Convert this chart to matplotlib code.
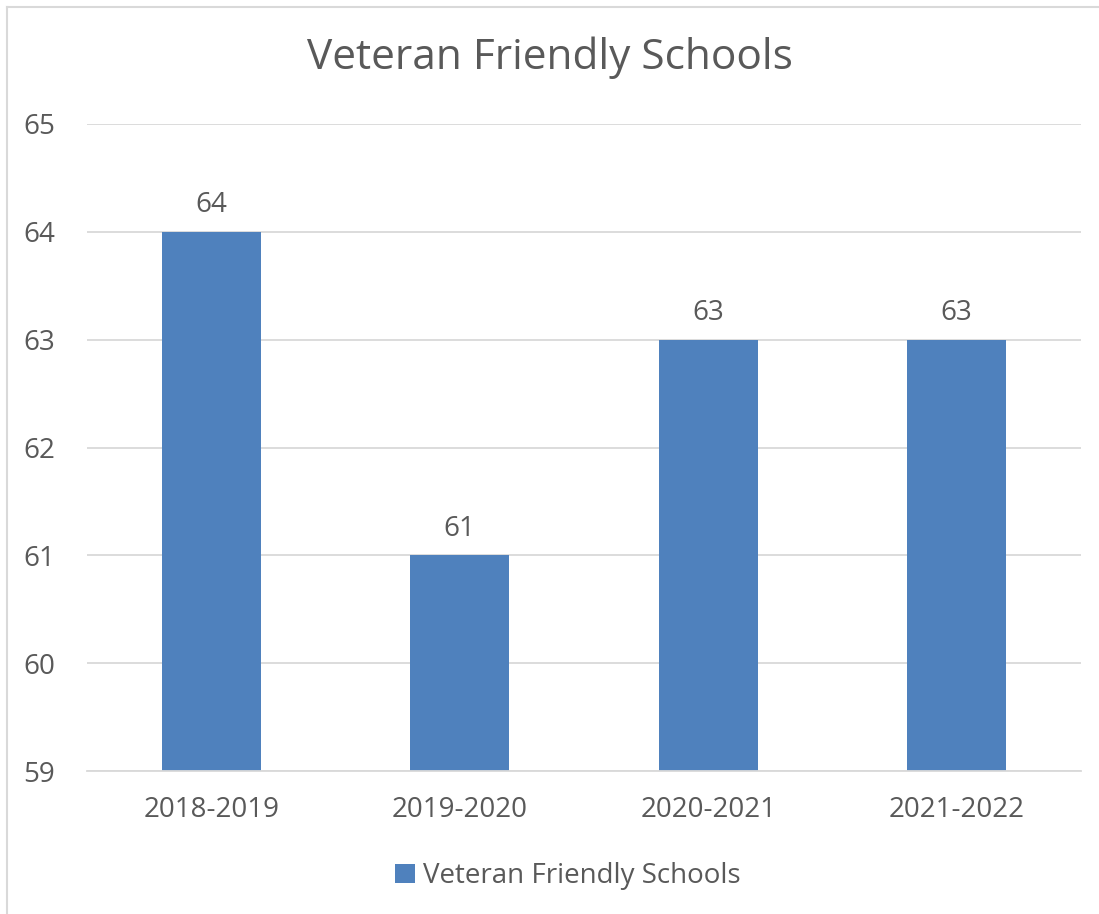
import matplotlib.pyplot as plt
from matplotlib.lines import Line2D

years = ['2018-2019', '2019-2020', '2020-2021', '2021-2022']
schools = [64, 61, 63, 63]

plt.rcParams['font.family'] = ['Open Sans', 'DejaVu Sans']
text_col = '#595959'
bar_col = '#4F81BD'

fig = plt.figure(figsize=(10.99, 9.14), dpi=100)
W, H = 1099, 914
ax = fig.add_axes([87 / W, 1 - 771 / H, (1081 - 87) / W, (771 - 124) / H])

x = range(len(years))
bars = ax.bar(x, schools, width=0.4, color=bar_col, label='Veteran Friendly Schools', zorder=2)
ax.bar_label(bars, padding=9, fontsize=20, color=text_col)

ax.set_ylim(59, 65)
ax.set_xlim(-0.5, len(years) - 0.5)
ax.set_yticks(range(59, 66))
ax.set_xticks(list(x))
ax.set_xticklabels(years)
ax.yaxis.grid(True, color='#D9D9D9', linewidth=1.3, zorder=0)
ax.set_axisbelow(True)
for s in ['top', 'right', 'left']:
    ax.spines[s].set_visible(False)
ax.spines['bottom'].set_color('#D9D9D9')
ax.spines['bottom'].set_linewidth(1.3)
ax.tick_params(axis='both', length=0, labelsize=20, labelcolor=text_col)
ax.tick_params(axis='x', pad=18)
ax.tick_params(axis='y', pad=23)

fig.text(0.5, 1 - 58 / H, 'Veteran Friendly Schools', ha='center', va='center',
         fontsize=30.5, color=text_col)

fig.legend(handles=[bars], labels=['Veteran Friendly Schools'], loc='center',
           bbox_to_anchor=(568 / W, 1 - 876 / H), frameon=False, fontsize=20,
           labelcolor=text_col, handlelength=0.7, handleheight=0.7, handletextpad=0.3)

# light chart border
fig.add_artist(Line2D([7 / W, 7 / W], [0, 1 - 7 / H], color='#D9D9D9', linewidth=1.5))
fig.add_artist(Line2D([7 / W, 1], [1 - 7 / H, 1 - 7 / H], color='#D9D9D9', linewidth=1.5))

fig.savefig('out.png', dpi=100)
